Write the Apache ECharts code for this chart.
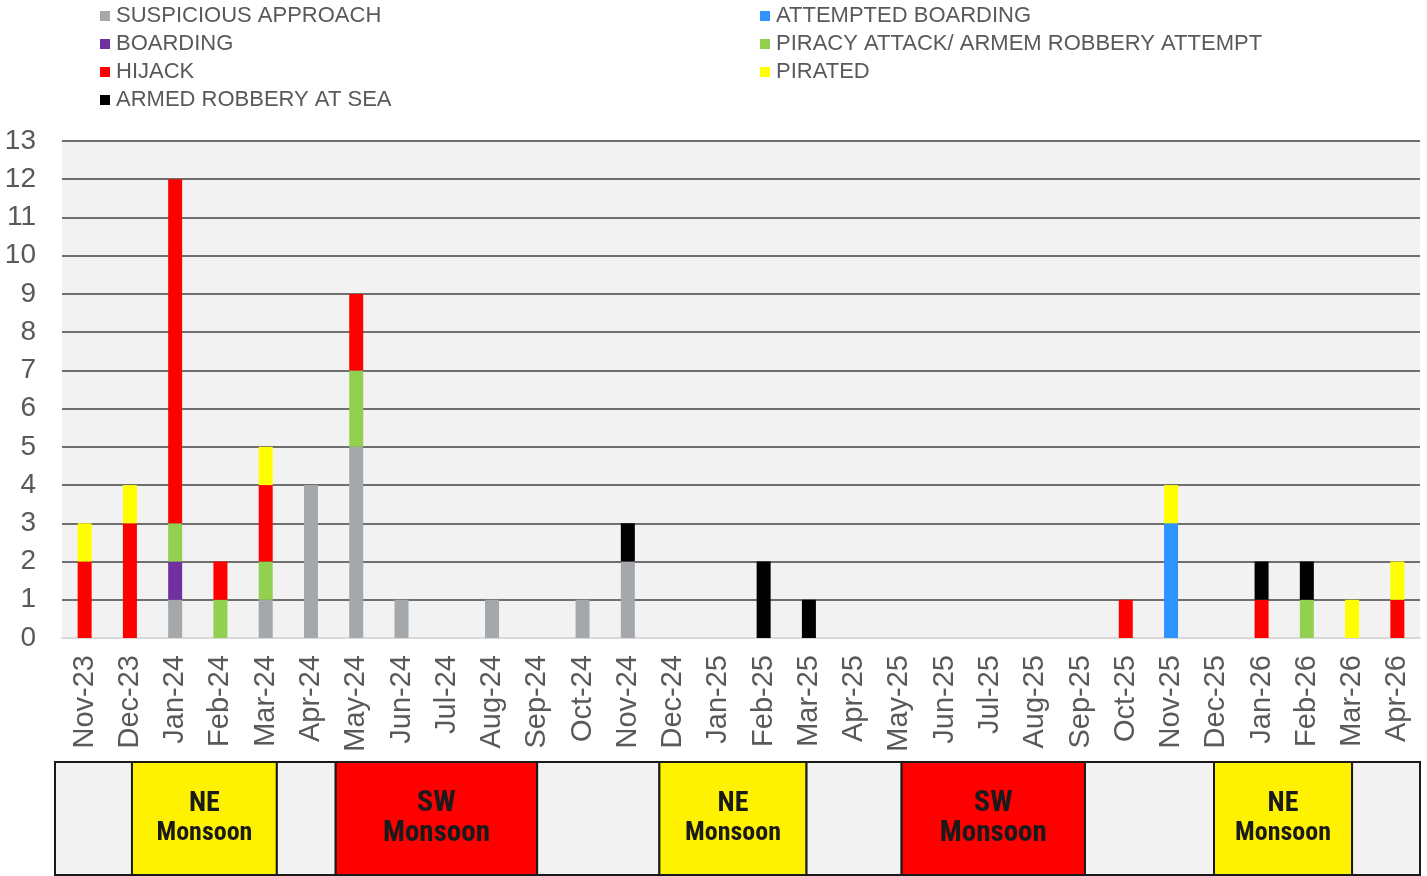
<!DOCTYPE html>
<html>
<head>
<meta charset="utf-8">
<script src="https://cdn.jsdelivr.net/npm/echarts@6/dist/echarts.min.js"></script>
<style>
  html, body { margin: 0; padding: 0; background: #ffffff; }
  #chart { width: 1427px; height: 876px; }
</style>
</head>
<body>
<div id="chart"></div>
<script>
// Monthly incident counts by type
const months = ['Nov-23','Dec-23','Jan-24','Feb-24','Mar-24','Apr-24','May-24','Jun-24','Jul-24','Aug-24',
  'Sep-24','Oct-24','Nov-24','Dec-24','Jan-25','Feb-25','Mar-25','Apr-25','May-25','Jun-25',
  'Jul-25','Aug-25','Sep-25','Oct-25','Nov-25','Dec-25','Jan-26','Feb-26','Mar-26','Apr-26'];

const suspiciousApproach = [0,0,1,0,1,4,5,1,0,1, 0,1,2,0,0,0,0,0,0,0, 0,0,0,0,0,0,0,0,0,0];
const boarding           = [0,0,1,0,0,0,0,0,0,0, 0,0,0,0,0,0,0,0,0,0, 0,0,0,0,0,0,0,0,0,0];
const attemptedBoarding  = [0,0,0,0,0,0,0,0,0,0, 0,0,0,0,0,0,0,0,0,0, 0,0,0,0,3,0,0,0,0,0];
const piracyAttempt      = [0,0,1,1,1,0,2,0,0,0, 0,0,0,0,0,0,0,0,0,0, 0,0,0,0,0,0,0,1,0,0];
const hijack             = [2,3,9,1,2,0,2,0,0,0, 0,0,0,0,0,0,0,0,0,0, 0,0,0,1,0,0,1,0,0,1];
const pirated            = [1,1,0,0,1,0,0,0,0,0, 0,0,0,0,0,0,0,0,0,0, 0,0,0,0,1,0,0,0,1,1];
const armedRobbery       = [0,0,0,0,0,0,0,0,0,0, 0,0,1,0,0,2,1,0,0,0, 0,0,0,0,0,0,1,1,0,0];

const yTicks = [0,1,2,3,4,5,6,7,8,9,10,11,12,13];

// Monsoon seasons, spans measured in months along the same axis as the bars
const seasonStart = [-0.15, 1.55, 4.75, 6.05, 10.5, 13.2, 16.45, 18.55, 22.6, 25.45, 28.5];
const seasonEnd   = [ 1.55, 4.75, 6.05, 10.5, 13.2, 16.45, 18.55, 22.6, 25.45, 28.5, 30];
const seasonKind  = ['', 'NE', '', 'SW', '', 'NE', '', 'SW', '', 'NE', ''];

const FONT = 'Arial, "Liberation Sans", sans-serif';
const NARROW = '"Liberation Sans Narrow", "Arial Narrow", "Roboto Condensed", Arial, sans-serif';

const seriesDefs = [
  { name: 'SUSPICIOUS APPROACH', data: suspiciousApproach, color: '#a5a8ab' },
  { name: 'BOARDING', data: boarding, color: '#7030a0' },
  { name: 'ATTEMPTED BOARDING', data: attemptedBoarding, color: '#2f93ff' },
  { name: 'PIRACY ATTACK/ ARMEM ROBBERY ATTEMPT', data: piracyAttempt, color: '#92d050' },
  { name: 'HIJACK', data: hijack, color: '#ff0000' },
  { name: 'PIRATED', data: pirated, color: '#ffff00' },
  { name: 'ARMED ROBBERY AT SEA', data: armedRobbery, color: '#000000' }
];

const legendCommon = {
  orient: 'vertical',
  icon: 'rect',
  itemWidth: 10,
  itemHeight: 10,
  itemGap: 6,
  padding: 0,
  top: 5,
  selectedMode: false,
  textStyle: { fontFamily: FONT, fontSize: 22, lineHeight: 22, color: '#595959', padding: [0, 0, 0, 1] }
};

const chart = echarts.init(document.getElementById('chart'), null, { renderer: 'canvas' });

const seasonData = seasonStart.map((s, i) => [s, seasonEnd[i], seasonKind[i]]);

chart.setOption({
  animation: false,
  backgroundColor: '#ffffff',
  legend: [
    Object.assign({}, legendCommon, { left: 100, data: ['SUSPICIOUS APPROACH', 'BOARDING', 'HIJACK', 'ARMED ROBBERY AT SEA'] }),
    Object.assign({}, legendCommon, { left: 760, data: ['ATTEMPTED BOARDING', 'PIRACY ATTACK/ ARMEM ROBBERY ATTEMPT', 'PIRATED'] })
  ],
  grid: [
    { left: 62, width: 1358, top: 141, height: 497, show: true, backgroundColor: '#f2f2f2', borderWidth: 0 },
    { left: 55, width: 1365, top: 762, height: 113, show: false }
  ],
  xAxis: [
    {
      gridIndex: 0,
      type: 'category',
      data: months,
      boundaryGap: true,
      axisTick: { show: false },
      axisLine: { show: true, lineStyle: { color: '#d9d9d9', width: 2 } },
      axisLabel: {
        rotate: 90, interval: 0, margin: 17,
        fontFamily: FONT, fontSize: 29, color: '#595959'
      }
    },
    { gridIndex: 1, type: 'value', min: -0.15, max: 30, show: false }
  ],
  yAxis: [
    {
      gridIndex: 0,
      type: 'value',
      min: yTicks[0],
      max: yTicks[yTicks.length - 1],
      interval: 1,
      axisLine: { show: false },
      axisTick: { show: false },
      axisLabel: { margin: 26, fontFamily: FONT, fontSize: 28, color: '#595959' },
      splitLine: { show: true, showMinLine: false, lineStyle: { color: '#6f6f6f', width: 2 } }
    },
    { gridIndex: 1, type: 'value', min: 0, max: 1, show: false }
  ],
  series: seriesDefs.map(d => ({
    name: d.name,
    type: 'bar',
    stack: 'incidents',
    xAxisIndex: 0,
    yAxisIndex: 0,
    barWidth: 14,
    data: d.data,
    itemStyle: { color: d.color },
    emphasis: { disabled: true }
  })).concat([{
    name: 'Monsoon',
    type: 'custom',
    xAxisIndex: 1,
    yAxisIndex: 1,
    data: seasonData,
    encode: { x: [0, 1] },
    silent: true,
    renderItem: function (params, api) {
      const p0 = api.coord([api.value(0), 1]);
      const p1 = api.coord([api.value(1), 0]);
      const kind = seasonKind[params.dataIndex];
      const fill = kind === 'NE' ? '#fff200' : kind === 'SW' ? '#ff0000' : '#f2f2f2';
      const children = [{
        type: 'rect',
        shape: { x: p0[0], y: p0[1], width: p1[0] - p0[0], height: p1[1] - p0[1] },
        style: { fill: fill, stroke: '#1a1a1a', lineWidth: 2 }
      }];
      if (kind) {
        const big = kind === 'SW' ? 30 : 28;
        const small = kind === 'SW' ? 29 : 26;
        children.push({
          type: 'text',
          style: {
            text: '{a|' + kind + '}\n{b|Monsoon}',
            x: (p0[0] + p1[0]) / 2,
            y: (p0[1] + p1[1]) / 2,
            align: 'center',
            verticalAlign: 'middle',
            rich: {
              a: { fontFamily: NARROW, fontWeight: 'bold', fontSize: big, lineHeight: 30, fill: '#1a1a1a', align: 'center' },
              b: { fontFamily: NARROW, fontWeight: 'bold', fontSize: small, lineHeight: 30, fill: '#1a1a1a', align: 'center' }
            }
          }
        });
      }
      return { type: 'group', children: children };
    }
  }])
});
</script>
</body>
</html>
